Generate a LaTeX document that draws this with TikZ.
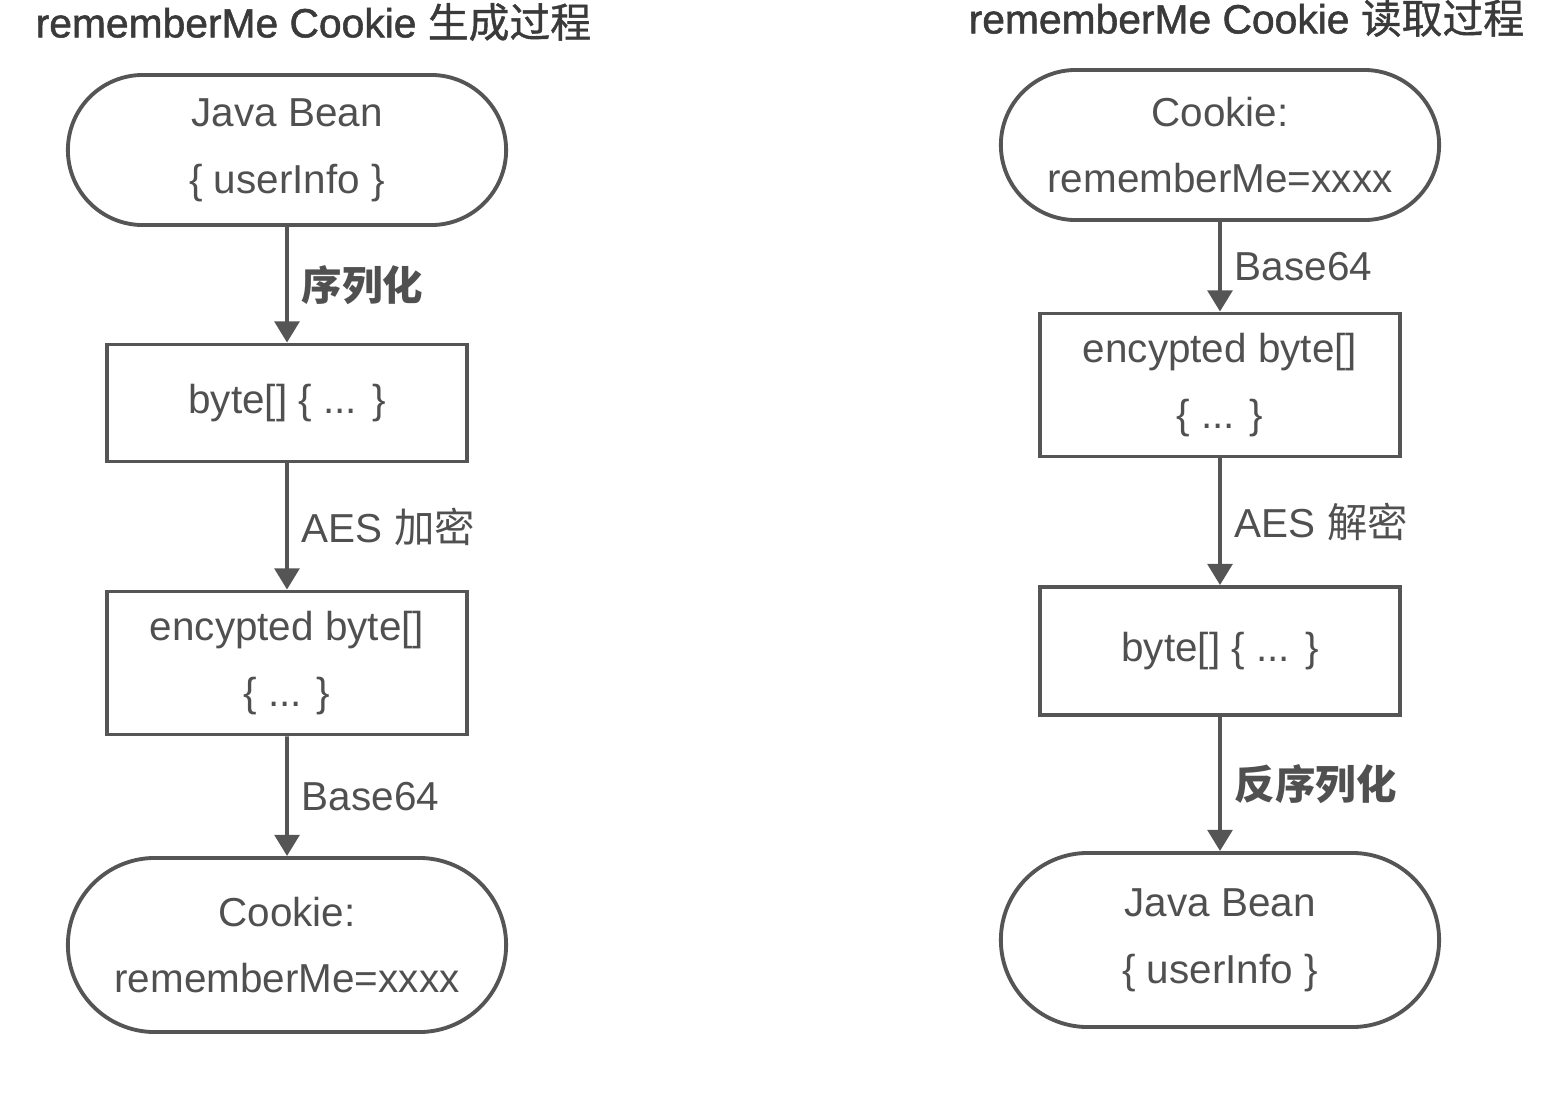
\documentclass[tikz,border=0pt]{standalone}
\usepackage{fontspec}
\setmainfont{Liberation Sans}
\newfontfamily\cjk{Noto Sans CJK SC}
\newfontfamily\titlefont[FakeBold=1.3]{Liberation Sans}
\newfontfamily\titlecjk[FakeBold=1.0]{Noto Sans CJK SC}
\usetikzlibrary{arrows.meta,shapes.misc}
\definecolor{linegray}{HTML}{555555}
\definecolor{textgray}{HTML}{505050}
\definecolor{titlegray}{HTML}{3A3A3A}

\begin{document}
\begin{tikzpicture}[x=0.01cm, y=-0.01cm,
    box/.style={draw=linegray, line width=1.1pt, text=textgray, align=center,
        minimum width=3.6cm, inner sep=0pt, font=\fontsize{11.5}{19}\selectfont},
    term/.style={box, rounded rectangle, minimum width=4.38cm},
    flow/.style={draw=linegray, line width=1.1pt, -{Triangle[width=7pt,length=6pt]}},
    lbl/.style={right, inner sep=0pt, xshift=0.13cm, text=textgray,
        font=\fontsize{11.5}{14}\selectfont},
    title/.style={right, inner sep=0pt, text=titlegray, font=\fontsize{11.6}{14}\titlefont}]
    \useasboundingbox (0,0) rectangle (1568,1093);

    % left: generating the cookie
    \node[title] (gentitle) at (35,22) {rememberMe Cookie {\titlecjk 生成过程}};
    \node[term, minimum height=1.5cm] (genbean) at (287,150) {Java Bean\\\{ userInfo \}};
    \node[box, minimum height=1.17cm] (genbytes) at (287,403) {byte[] \{ ... \}};
    \node[box, minimum height=1.43cm] (genenc) at (287,663) {encypted byte[]\\\{ ... \}};
    \node[term, minimum height=1.74cm] (gencookie) at (287,945) {Cookie:\\rememberMe=xxxx};

    \draw[flow] (genbean) -- (genbytes) node[lbl, midway] {\cjk\bfseries 序列化};
    \draw[flow] (genbytes) -- (genenc) node[lbl, midway] {AES {\cjk 加密}};
    \draw[flow] (genenc) -- (gencookie) node[lbl, midway] {Base64};

    % right: reading the cookie
    \node[title] (readtitle) at (968,18) {rememberMe Cookie {\titlecjk 读取过程}};
    \node[term, minimum height=1.5cm] (readcookie) at (1220,145) {Cookie:\\rememberMe=xxxx};
    \node[box, minimum height=1.43cm] (readenc) at (1220,385) {encypted byte[]\\\{ ... \}};
    \node[box, minimum height=1.28cm] (readbytes) at (1220,651) {byte[] \{ ... \}};
    \node[term, minimum height=1.74cm] (readbean) at (1220,940) {Java Bean\\\{ userInfo \}};

    \draw[flow] (readcookie) -- (readenc) node[lbl, midway] {Base64};
    \draw[flow] (readenc) -- (readbytes) node[lbl, midway] {AES {\cjk 解密}};
    \draw[flow] (readbytes) -- (readbean) node[lbl, midway] {\cjk\bfseries 反序列化};
\end{tikzpicture}
\end{document}
